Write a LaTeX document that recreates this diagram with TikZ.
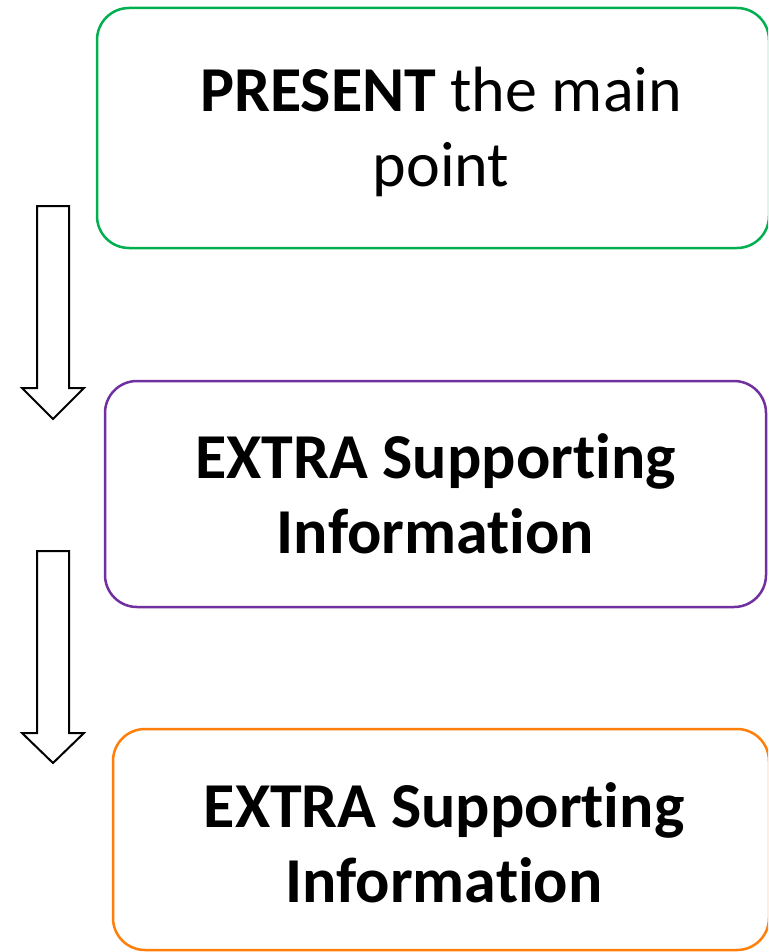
\documentclass[tikz,border=0pt]{standalone}
\usepackage{fontspec}
\setmainfont{Carlito}[Ligatures={NoCommon,NoContextual}]
\definecolor{boxgreen}{HTML}{00B050}
\definecolor{boxpurple}{HTML}{7030A0}
\definecolor{boxorange}{HTML}{FF7F0A}
\begin{document}
\begin{tikzpicture}[x=1pt,y=-1pt,
  box/.style={draw=#1, line width=2.5pt, rounded corners=32pt, fill=white, inner sep=0pt},
  boxtext/.style={anchor=base, inner sep=0pt, font=\fontsize{64}{75}\selectfont},
  blockarrow/.style={draw=black, line width=2pt, fill=white, line join=miter}]
\useasboundingbox (0,0) rectangle (768,952);
\begin{scope}
\clip (0,0) rectangle (768,952);
\node[box=boxgreen, minimum width=672pt, minimum height=240pt] (present) at (433,128) {};
\node[box=boxpurple, minimum width=661pt, minimum height=226pt] (extraA) at (435.5,494) {};
\node[box=boxorange, minimum width=656pt, minimum height=221pt] (extraB) at (441,839.5) {};
\node[boxtext] (presenttext) at (441,112) {\begin{tabular}[t]{@{}c@{}}\textbf{PRESENT} the main\\point\end{tabular}};
\node[boxtext] (extraAtext) at (435.5,478) {\begin{tabular}[t]{@{}c@{}}\textbf{EXTRA Supporting}\\\textbf{Information}\end{tabular}};
\node[boxtext] (extraBtext) at (444,827) {\begin{tabular}[t]{@{}c@{}}\textbf{EXTRA Supporting}\\\textbf{Information}\end{tabular}};
\draw[blockarrow] (37,206) -- (69,206) -- (69,388) -- (84,388) -- (53,419) -- (22,388) -- (37,388) -- cycle;
\draw[blockarrow] (37,551) -- (69,551) -- (69,733) -- (84,733) -- (53,763) -- (22,733) -- (37,733) -- cycle;
\end{scope}
\end{tikzpicture}
\end{document}
